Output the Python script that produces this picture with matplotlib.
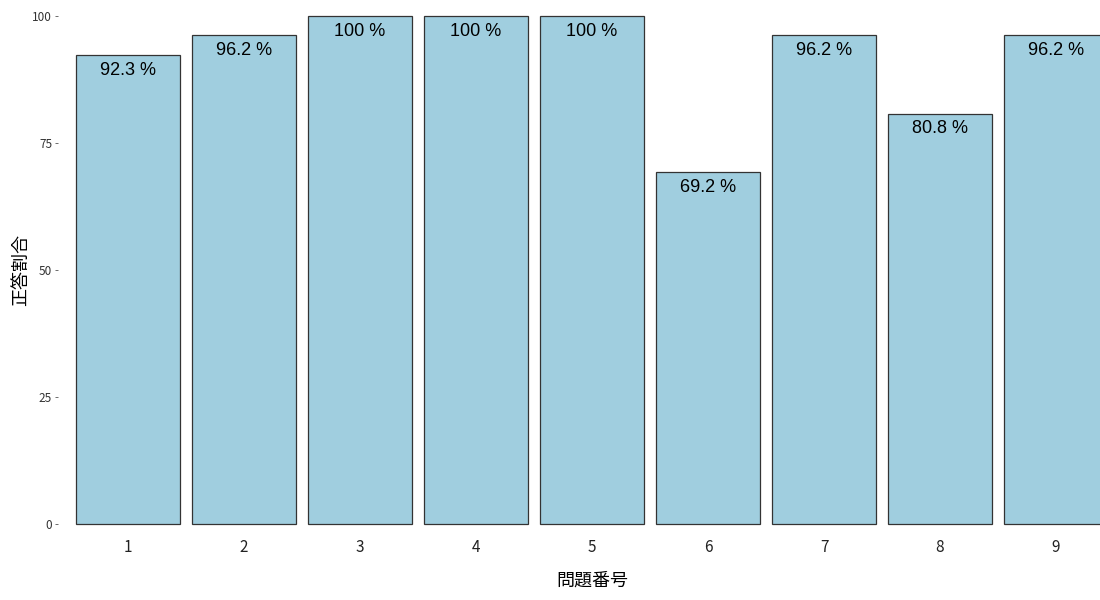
import matplotlib
matplotlib.use("Agg")
import matplotlib.pyplot as plt

questions = ["1", "2", "3", "4", "5", "6", "7", "8", "9"]
rates = [92.3, 96.2, 100, 100, 100, 69.2, 96.2, 80.8, 96.2]
yticks = [0, 25, 50, 75, 100]
xlabel = "問題番号"
ylabel = "正答割合"

plt.rcParams['font.family'] = ['Noto Sans CJK JP', 'DejaVu Sans']

fig = plt.figure(figsize=(11, 6), dpi=100)
ax = fig.add_axes([58.4/1100, (600-532)/600, 1067.2/1100, 541.4/600])

xs = list(range(1, len(questions) + 1))
ax.bar(xs, rates, width=0.9, color='#A0CEDF', edgecolor='#333333', linewidth=0.9)
for x, v in zip(xs, rates):
    lab = f"{v:g} %"
    ax.annotate(lab, (x, v), xytext=(0, -11), textcoords='offset points',
                ha='center', va='center', fontsize=13, family=['Liberation Sans'],
                color='black')

ax.set_xlim(0.4, 9.6)
ax.set_ylim(-1.57, 105)
ax.set_xticks(xs)
ax.set_xticklabels(questions, fontsize=11)
ax.set_yticks(yticks)
ax.set_yticklabels([str(t) for t in yticks], fontsize=8.5)
ax.tick_params(axis='x', length=0, pad=5, colors='#222222')
ax.tick_params(axis='y', length=2.5, width=0.6, color='#555555', pad=2, labelcolor='#333333')
for s in ax.spines.values():
    s.set_visible(False)

fig.text(592/1100, 1 - 581/600, xlabel, ha='center', va='center', fontsize=13)
fig.text(21/1100, 1 - 270/600, ylabel, ha='center', va='center', fontsize=13, rotation=90)

fig.savefig("out.png", dpi=100)
